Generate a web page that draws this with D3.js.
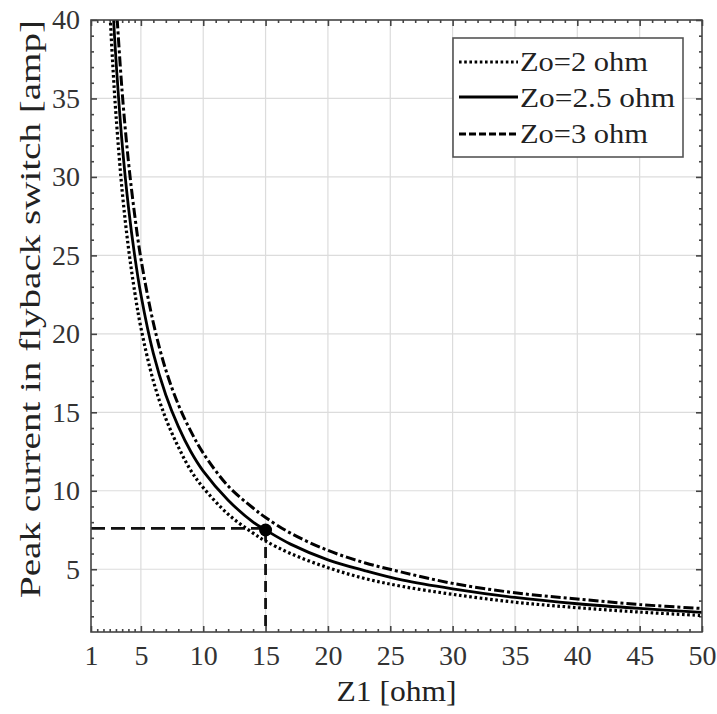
<!DOCTYPE html>
<html>
<head>
<meta charset="utf-8">
<script src="https://cdn.jsdelivr.net/npm/d3@7"></script>
<style>
html,body{margin:0;padding:0;background:#fff;}
svg{display:block;}
</style>
</head>
<body>
<svg id="chart" width="717" height="714"></svg>
<script>
// ---- data ----
const xTicks = [1,5,10,15,20,25,30,35,40,45,50];
const yTicks = [5,10,15,20,25,30,35,40];
const z1Dotted = [2.5,2.75,3,3.5,4,4.5,5,6,7,8,9,10,12,14,15,17,20,23,26,30,35,40,45,50];
const ipDotted = [40.8,37.1,34.0,29.1,25.5,22.7,20.4,17.0,14.6,12.8,11.3,10.2,8.5,7.3,6.8,6.0,5.1,4.4,3.9,3.4,2.9,2.55,2.27,2.05];
const z1Solid = [2.75,3,3.5,4,4.5,5,6,7,8,9,10,12,14,15,17,20,23,26,30,35,40,45,50];
const ipSolid = [40.9,37.5,32.1,28.1,25.0,22.5,18.75,16.1,14.1,12.5,11.25,9.4,8.0,7.5,6.6,5.6,4.9,4.3,3.75,3.2,2.8,2.5,2.25];
const z1DashDot = [3,3.5,4,4.5,5,6,7,8,9,10,12,14,15,17,20,23,26,30,35,40,45,50];
const ipDashDot = [41.3,35.4,31.0,27.6,24.8,20.7,17.7,15.5,13.8,12.4,10.3,8.9,8.3,7.3,6.2,5.4,4.8,4.1,3.5,3.1,2.75,2.5];
const seriesNames = ["Zo=2 ohm","Zo=2.5 ohm","Zo=3 ohm"];
const markerPoint = [15, 7.5];
const guideLevel = 7.6;
const xLabel = "Z1 [ohm]";
const yLabel = "Peak current in flyback switch [amp]";

const FONT = "Liberation Serif";

// ---- layout ----
const svg = d3.select("#chart");
const L = 91, R = 702, T = 20, B = 632;
const x = d3.scaleLinear().domain([1,50]).range([L,R]);
const y = d3.scaleLinear().domain([1,40]).range([B,T]);

// grid
const g = svg.append("g");
g.selectAll(".vg").data(xTicks.filter(d=>d>1 && d<50)).enter().append("line")
  .attr("x1",d=>x(d)).attr("x2",d=>x(d)).attr("y1",T).attr("y2",B)
  .attr("stroke","#dcdcdc").attr("stroke-width",1.2);
g.selectAll(".hg").data(yTicks.filter(d=>d<40)).enter().append("line")
  .attr("y1",d=>y(d)).attr("y2",d=>y(d)).attr("x1",L).attr("x2",R)
  .attr("stroke","#dcdcdc").attr("stroke-width",1.2);

// minor ticks
const xMinor = d3.range(1.5,5,0.5).concat(d3.range(6,50,1)).filter(d=>xTicks.indexOf(d)<0);
const yMinor = d3.range(2,40,1).filter(d=>yTicks.indexOf(d)<0);

// axes via d3 (inward ticks)
const axB = d3.axisBottom(x).tickValues(xTicks).tickSize(-6).tickPadding(13).tickFormat(d3.format("d"));
const axL = d3.axisLeft(y).tickValues(yTicks).tickSize(-6).tickPadding(11).tickFormat(d3.format("d"));
svg.append("g").attr("transform",`translate(0,${B})`).call(axB);
svg.append("g").attr("transform",`translate(${L},0)`).call(axL);
svg.append("g").attr("transform",`translate(0,${T})`).call(d3.axisTop(x).tickValues(xTicks).tickSize(-6).tickFormat(""));
svg.append("g").attr("transform",`translate(${R},0)`).call(d3.axisRight(y).tickValues(yTicks).tickSize(-6).tickFormat(""));
svg.append("g").attr("transform",`translate(0,${B})`).call(d3.axisBottom(x).tickValues(xMinor).tickSize(-3).tickFormat(""));
svg.append("g").attr("transform",`translate(0,${T})`).call(d3.axisTop(x).tickValues(xMinor).tickSize(-3).tickFormat(""));
svg.append("g").attr("transform",`translate(${L},0)`).call(d3.axisLeft(y).tickValues(yMinor).tickSize(-3).tickFormat(""));
svg.append("g").attr("transform",`translate(${R},0)`).call(d3.axisRight(y).tickValues(yMinor).tickSize(-3).tickFormat(""));
svg.selectAll(".domain").remove();
svg.selectAll(".tick line").attr("stroke","#444").attr("stroke-width",1.6);
svg.selectAll(".tick text").attr("font-family",FONT).attr("font-size",28).attr("fill","#333");

// clip
svg.append("clipPath").attr("id","clip").append("rect").attr("x",L).attr("y",T).attr("width",R-L).attr("height",B-T);

const line = d3.line().x(d=>x(d[0])).y(d=>y(d[1])).curve(d3.curveCatmullRom.alpha(0.5));
const plot = svg.append("g").attr("clip-path","url(#clip)");

// guide dashed lines
plot.append("line").attr("x1",L).attr("x2",x(markerPoint[0])).attr("y1",y(guideLevel)).attr("y2",y(guideLevel))
  .attr("stroke","#111").attr("stroke-width",2.8).attr("stroke-dasharray","14,6");
plot.append("line").attr("x1",x(markerPoint[0])).attr("x2",x(markerPoint[0])).attr("y1",y(markerPoint[1])).attr("y2",B)
  .attr("stroke","#111").attr("stroke-width",2.8).attr("stroke-dasharray","11,6");

const series = [
  {xs:z1Dotted, ys:ipDotted, dash:"2.6,2.6", w:3.2},
  {xs:z1Solid, ys:ipSolid, dash:null, w:2.8},
  {xs:z1DashDot, ys:ipDashDot, dash:"10,3,3,3", w:3}
];
series.forEach(s=>{
  plot.append("path").datum(s.xs.map((v,i)=>[v,s.ys[i]]))
    .attr("d",line).attr("fill","none").attr("stroke","#000").attr("stroke-width",s.w)
    .attr("stroke-dasharray",s.dash);
});

plot.append("circle").attr("cx",x(markerPoint[0])).attr("cy",y(markerPoint[1])).attr("r",6.5).attr("fill","#000");

// frame
svg.append("rect").attr("x",L).attr("y",T).attr("width",R-L).attr("height",B-T)
  .attr("fill","none").attr("stroke","#444").attr("stroke-width",1.6);

// legend
const lg = svg.append("g");
lg.append("rect").attr("x",453).attr("y",38).attr("width",230).attr("height",119)
  .attr("fill","#fff").attr("stroke","#555").attr("stroke-width",1.6);
const rowsY = [62,97,134];
const baseY = [71,107,143];
const widths=[128,155,128];
series.forEach((s,i)=>{
  lg.append("line").attr("x1",459).attr("x2",518).attr("y1",rowsY[i]).attr("y2",rowsY[i])
    .attr("stroke","#000").attr("stroke-width",s.w).attr("stroke-dasharray", i===2 ? "7,3,7,3" : s.dash);
  lg.append("text").attr("x",520).attr("y",baseY[i])
    .attr("font-family",FONT).attr("font-size",28).attr("fill","#222")
    .attr("textLength",widths[i]).attr("lengthAdjust","spacingAndGlyphs").text(seriesNames[i]);
});

// axis titles
svg.append("text").attr("x",(L+R)/2).attr("y",701).attr("text-anchor","middle")
  .attr("font-family",FONT).attr("font-size",30).attr("fill","#222")
  .attr("textLength",120).attr("lengthAdjust","spacingAndGlyphs").text(xLabel);
svg.append("text").attr("transform",`translate(40,${309}) rotate(-90)`).attr("text-anchor","middle")
  .attr("font-family",FONT).attr("font-size",30).attr("fill","#222")
  .attr("textLength",578).attr("lengthAdjust","spacingAndGlyphs").text(yLabel);
</script>
</body>
</html>
